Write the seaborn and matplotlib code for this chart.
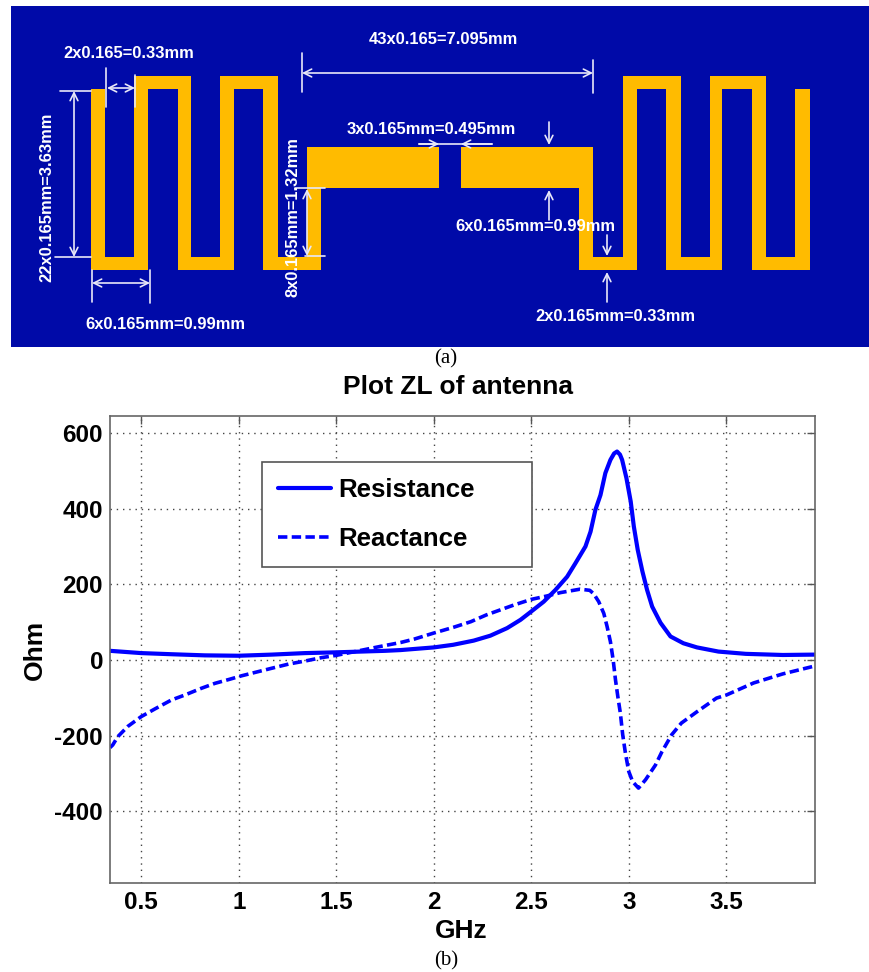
import matplotlib
matplotlib.use("Agg")
import matplotlib.pyplot as plt
import seaborn as sns

# Impedance curves (GHz, Ohm)
res_freq = [0.34, 0.5, 0.655, 0.826, 1.0, 1.17, 1.34, 1.5, 1.75, 1.83, 2.0, 2.1, 2.205, 2.29, 2.376, 2.445,
            2.5, 2.564, 2.624, 2.684, 2.727, 2.778, 2.804, 2.829, 2.855, 2.88, 2.906, 2.925, 2.94, 2.955,
            2.966, 2.988, 3.01, 3.026, 3.046, 3.07, 3.094, 3.12, 3.163, 3.214, 3.28, 3.35, 3.46, 3.6, 3.79,
            3.955]
res_ohm = [24, 18, 15, 12, 11, 14, 18, 20, 24, 26, 33, 40, 51, 64, 84, 106,
           128, 154, 185, 220, 256, 300, 339, 397, 436, 494, 529, 546, 551, 543,
           529, 481, 419, 353, 291, 234, 185, 141, 98, 62, 44, 33, 22, 16, 13,
           14]

rea_freq = [0.34, 0.354, 0.38, 0.431, 0.5, 0.569, 0.655, 0.723, 0.809, 0.878, 0.955, 1.015, 1.1, 1.17, 1.256,
            1.34, 1.425, 1.5, 1.72, 1.83, 1.9, 2.0, 2.1, 2.19, 2.27, 2.34, 2.41, 2.5, 2.58, 2.65, 2.75, 2.8,
            2.82, 2.846, 2.872, 2.889, 2.906, 2.92, 2.932, 2.944, 2.957, 2.969, 2.983, 3.0, 3.02, 3.05, 3.086,
            3.137, 3.17, 3.22, 3.27, 3.35, 3.45, 3.5, 3.64, 3.79, 3.955]
rea_ohm = [-232, -225, -203, -176, -150, -130, -106, -93, -75, -62, -51, -42, -31, -22, -11,
           -3, 6, 12, 35, 46, 55, 71, 86, 101, 119, 132, 145, 160, 169, 178, 187, 184,
           175, 154, 123, 88, 48, 0, -53, -97, -141, -198, -247, -295, -322, -339, -317,
           -278, -243, -198, -167, -137, -101, -93, -61, -37, -16]

x_ticks = [0.5, 1, 1.5, 2, 2.5, 3, 3.5]
x_labels = ["0.5", "1", "1.5", "2", "2.5", "3", "3.5"]
y_ticks = [-400, -200, 0, 200, 400, 600]

# Antenna outline in panel (a), image pixels
left_arm = [(91, 89), (105, 89), (105, 257), (134, 257), (134, 76), (191, 76), (191, 257), (220, 257),
            (220, 76), (278, 76), (278, 257), (307, 257), (307, 147), (439, 147), (439, 188), (321, 188),
            (321, 270), (263, 270), (263, 89), (234, 89), (234, 270), (178, 270), (178, 89), (148, 89),
            (148, 270), (91, 270)]
right_arm = [(461, 147), (593, 147), (593, 257), (623, 257), (623, 76), (681, 76), (681, 257), (710, 257),
             (710, 76), (766, 76), (766, 257), (795, 257), (795, 89), (810, 89), (810, 270), (752, 270),
             (752, 89), (722, 89), (722, 270), (666, 270), (666, 89), (637, 89), (637, 270), (579, 270),
             (579, 188), (461, 188)]

# Extension lines: x0, y0, x1, y1
ext_lines = [(106, 68, 106, 107), (135, 75, 135, 107), (60, 91, 91, 91), (55, 257, 91, 257),
             (92, 270, 92, 302), (150, 270, 150, 303), (302, 53, 302, 92), (593, 60, 593, 93),
             (295, 188, 325, 188), (305, 256, 325, 256), (419, 144, 492, 144)]
# Arrows: x0, y0, x1, y1, style
arrows = [(107, 88, 135, 88, "<->"), (74, 91, 74, 257, "<->"), (92, 283, 150, 283, "<->"),
          (302, 73, 593, 73, "<->"), (307, 189, 307, 256, "<->"), (419, 144, 439, 144, "->"),
          (492, 144, 461, 144, "->"), (549, 122, 549, 145, "->"), (549, 220, 549, 190, "->"),
          (607, 235, 607, 256, "->"), (607, 302, 607, 272, "->")]
# Labels: text, x, y, rotation
dim_labels = [("2x0.165=0.33mm", 129, 54, 0), ("43x0.165=7.095mm", 443, 39, 0),
              ("3x0.165mm=0.495mm", 431, 129, 0), ("22x0.165mm=3.63mm", 47, 197, 90),
              ("8x0.165mm=1.32mm", 293, 217, 90), ("6x0.165mm=0.99mm", 165, 324, 0),
              ("6x0.165mm=0.99mm", 535, 226, 0), ("2x0.165mm=0.33mm", 615, 316, 0)]

sns.set_style("white")
plt.rcParams["font.family"] = ["Liberation Sans", "DejaVu Sans"]
plt.rcParams["axes.unicode_minus"] = False
plt.rcParams["text.color"] = "black"
plt.rcParams["axes.labelcolor"] = "black"
plt.rcParams["xtick.color"] = "black"
plt.rcParams["ytick.color"] = "black"

W, H = 870, 972
fig = plt.figure(figsize=(8.7, 9.72), dpi=100)

# Panel (a), drawn in image pixels
top = fig.add_axes([0, 0, 1, 1])
top.set_xlim(0, W)
top.set_ylim(H, 0)
top.axis("off")
top.add_patch(plt.Rectangle((11, 6), 859, 341, fc="#000AA8", ec="none"))
top.add_patch(plt.Polygon(left_arm, fc="#FFBB00", ec="none"))
top.add_patch(plt.Polygon(right_arm, fc="#FFBB00", ec="none"))
for x0, y0, x1, y1 in ext_lines:
    top.plot([x0, x1], [y0, y1], color="#E8E8F8", lw=1.2)
for x0, y0, x1, y1, style in arrows:
    top.annotate("", xy=(x1, y1), xytext=(x0, y0),
                 arrowprops=dict(arrowstyle=style, color="#E8E8F8", lw=1.2, shrinkA=0, shrinkB=0,
                                 mutation_scale=14))
for text, x, y, rot in dim_labels:
    top.text(x, y, text, color="white", fontsize=11.9, fontweight="bold", rotation=rot,
             ha="center", va="center")
top.text(446, 359, "(a)", fontsize=15, family="Liberation Serif", ha="center", va="center")
top.text(446, 961, "(b)", fontsize=15, family="Liberation Serif", ha="center", va="center")

# Panel (b)
ax = fig.add_axes([110 / W, 1 - 883 / H, (815 - 110) / W, (883 - 416) / H])
sns.lineplot(x=res_freq, y=res_ohm, color="#0000FF", lw=3, label="Resistance", sort=False, ax=ax)
sns.lineplot(x=rea_freq, y=rea_ohm, color="#0000FF", lw=2.6, label="Reactance", sort=False, ax=ax,
             linestyle=(0, (2.6, 1.2)))
ax.set_xlim(0.34, 3.955)
ax.set_ylim(-590, 645)
ax.set_xticks(x_ticks)
ax.set_xticklabels(x_labels)
ax.set_yticks(y_ticks)
ax.grid(True, color="#444444", linestyle=(0, (1, 3.5)), lw=1)
ax.tick_params(direction="in", length=6, width=1, color="#555555", top=True, right=True,
               labelsize=17.5, pad=5)
ax.tick_params(axis="x", pad=6)
for lab in ax.get_xticklabels() + ax.get_yticklabels():
    lab.set_fontweight("bold")
for sp in ax.spines.values():
    sp.set_color("#666666")
    sp.set_linewidth(1.2)
ax.set_title("Plot ZL of antenna", fontsize=19, fontweight="bold", pad=16, x=(458 - 110) / 705)
ax.set_xlabel("GHz", fontsize=19, fontweight="bold")
ax.set_ylabel("Ohm", fontsize=19, fontweight="bold")
ax.xaxis.set_label_coords((461 - 110) / 705, (883 - 931) / 467, transform=ax.transAxes)
ax.xaxis.label.set_va("center")
ax.yaxis.set_label_coords((35 - 110) / 705, (883 - 650) / 467, transform=ax.transAxes)
ax.yaxis.label.set_va("center")

leg = ax.legend(loc="upper left", bbox_to_anchor=(262 / W, 1 - 565 / H, 270 / W, 103 / H),
                bbox_transform=fig.transFigure, mode="expand",
                prop=dict(weight="bold", size=18.6), fancybox=False, framealpha=1,
                edgecolor="#555555", handlelength=2.05, handletextpad=0.27, labelspacing=0.98,
                borderpad=0.62, borderaxespad=0)
leg.get_frame().set_linewidth(1.2)

fig.savefig("out.png", dpi=100)
